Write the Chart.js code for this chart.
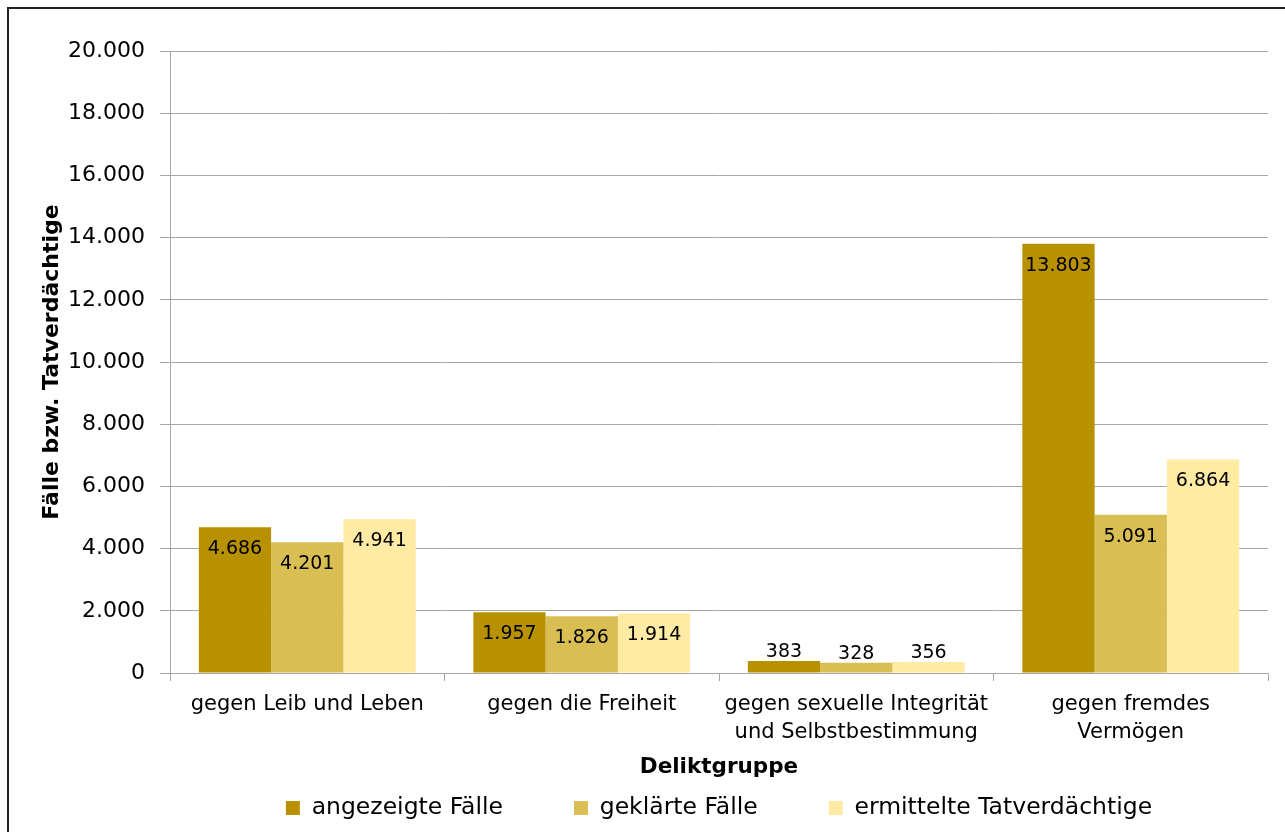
<!DOCTYPE html>
<html lang="de">
<head>
<meta charset="UTF-8">
<title>Fälle nach Deliktgruppe</title>
<script src="https://cdn.jsdelivr.net/npm/chart.js"></script>
<style>
  html, body { margin: 0; padding: 0; background: #fff; overflow: hidden; }
  .wrap { position: relative; width: 1285px; height: 832px; }
  .frame { position: absolute; left: 7px; top: 7px; width: 1300px; height: 900px; border: 2px solid #222; pointer-events: none; }
</style>
</head>
<body>
<div class="wrap">
  <canvas id="chart" width="1285" height="832"></canvas>
  <div class="frame"></div>
</div>
<script>
const categories = ["gegen Leib und Leben", "gegen die Freiheit", ["gegen sexuelle Integrität", "und Selbstbestimmung"], ["gegen fremdes", "Vermögen"]];
const seriesNames = ["angezeigte Fälle", "geklärte Fälle", "ermittelte Tatverdächtige"];
const angezeigt = [4686, 1957, 383, 13803];
const geklaert = [4201, 1826, 328, 5091];
const ermittelt = [4941, 1914, 356, 6864];
const yMin = 0, yMax = 20000, yStep = 2000;
const colors = ["#b89100", "#d9be53", "#ffeba3"];

const fmt = v => String(v).replace(/\B(?=(\d{3})+(?!\d))/g, ".");

Chart.defaults.font.family = '"DejaVu Sans", sans-serif';
Chart.defaults.color = "#000";

const gridColor = "#a6a6a6";
const legendFont = 23.5;
const legendGap = 71;

// Werte in bzw. über den Säulen
const barLabels = {
  id: "barLabels",
  afterDatasetsDraw(chart) {
    const ctx = chart.ctx;
    ctx.save();
    ctx.font = '19px "DejaVu Sans"';
    ctx.fillStyle = "#000";
    ctx.textAlign = "center";
    ctx.textBaseline = "middle";
    chart.data.datasets.forEach((ds, i) => {
      chart.getDatasetMeta(i).data.forEach((bar, j) => {
        const h = bar.base - bar.y;
        const y = h > 40 ? bar.y + 22 : bar.y - 9;
        ctx.fillText(fmt(ds.data[j]), bar.x, y);
      });
    });
    ctx.restore();
  }
};

// Legende: großer Abstand zwischen den Einträgen, Zeile trotzdem ganz unten
const legendShift = {
  id: "legendShift",
  afterLayout(chart) {
    const lg = chart.legend;
    lg.top = 808 - legendGap - legendFont / 2;
  }
};

new Chart(document.getElementById("chart"), {
  type: "bar",
  data: {
    labels: categories,
    datasets: [
      { label: seriesNames[0], data: angezeigt, backgroundColor: colors[0] },
      { label: seriesNames[1], data: geklaert, backgroundColor: colors[1] },
      { label: seriesNames[2], data: ermittelt, backgroundColor: colors[2] }
    ]
  },
  options: {
    responsive: false,
    devicePixelRatio: 1,
    animation: false,
    categoryPercentage: 0.79,
    barPercentage: 1,
    layout: { padding: { left: 0, right: 17, top: 51, bottom: 0 } },
    plugins: {
      tooltip: { enabled: false },
      legend: {
        position: "bottom",
        fullSize: false,
        maxHeight: 43,
        labels: {
          font: { size: legendFont },
          color: "#000",
          boxWidth: 14,
          boxHeight: 14,
          padding: legendGap
        }
      }
    },
    scales: {
      x: {
        afterFit: s => { s.height = 116; },
        grid: { drawOnChartArea: false, tickLength: 8, color: gridColor, offset: true },
        border: { color: gridColor },
        ticks: { font: { size: 21, lineHeight: 1.35 }, padding: 9, maxRotation: 0, autoSkip: false },
        title: { display: true, text: "Deliktgruppe", font: { size: 21.5, weight: "bold" }, padding: { top: 0, bottom: 9 } }
      },
      y: {
        min: yMin,
        max: yMax,
        afterFit: s => { s.width = 170; },
        grid: { color: gridColor, tickLength: 10 },
        border: { color: gridColor },
        ticks: { stepSize: yStep, font: { size: 22 }, padding: 15, callback: v => fmt(v) },
        title: { display: true, text: "Fälle bzw. Tatverdächtige", font: { size: 22, weight: "bold" }, padding: { top: 39, bottom: 0 } }
      }
    }
  },
  plugins: [barLabels, legendShift]
});
</script>
</body>
</html>
